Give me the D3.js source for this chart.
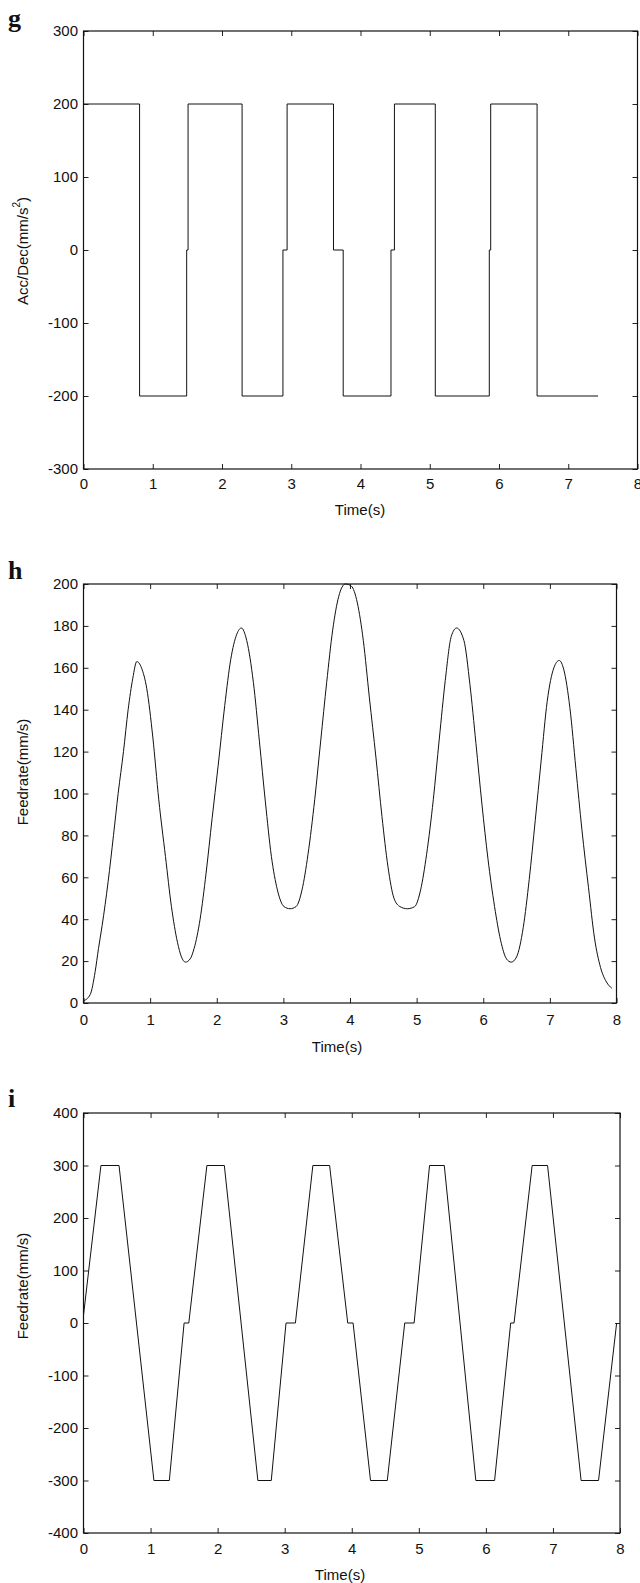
<!DOCTYPE html>
<html>
<head>
<meta charset="utf-8">
<script src="https://cdn.jsdelivr.net/npm/d3@7"></script>
<style>
  body { margin: 0; background: #fff; }
  text { font-family: "Liberation Sans", Arial, sans-serif; fill: #111; }
</style>
</head>
<body>
<div id="chart"></div>
<script>
// ticks
var timeTicks = [0, 1, 2, 3, 4, 5, 6, 7, 8];
var accTicks = [-300, -200, -100, 0, 100, 200, 300];
var feedTicksH = [0, 20, 40, 60, 80, 100, 120, 140, 160, 180, 200];
var feedTicksI = [-400, -300, -200, -100, 0, 100, 200, 300, 400];

// g: acc/dec, step values (value holds until next time)
var accTime  = [0, 0.81, 1.49, 1.51, 2.29, 2.88, 2.94, 3.61, 3.75, 4.44, 4.49, 5.08, 5.86, 5.88, 6.55, 7.43];
var accValue = [200, -200, 0, 200, -200, 0, 200, 0, -200, 0, 200, -200, 0, 200, -200, -200];

// h: feedrate
var feedTimeH = [0, 0.1, 0.175, 0.225, 0.28, 0.37, 0.45, 0.52, 0.6, 0.67, 0.74, 0.8, 0.87, 0.95, 1.04, 1.13, 1.23, 1.32, 1.41, 1.47, 1.53, 1.6, 1.66, 1.75, 1.84, 1.93, 2.02, 2.12, 2.21, 2.3, 2.37, 2.45, 2.55, 2.64, 2.73, 2.82, 2.91, 3.01, 3.1, 3.19, 3.28, 3.37, 3.47, 3.56, 3.65, 3.74, 3.83, 3.93, 4.02, 4.11, 4.2, 4.29, 4.39, 4.48, 4.57, 4.66, 4.75, 4.86, 4.97, 5.06, 5.15, 5.25, 5.34, 5.43, 5.52, 5.6, 5.71, 5.8, 5.89, 5.98, 6.07, 6.17, 6.26, 6.35, 6.42, 6.5, 6.6, 6.69, 6.78, 6.87, 6.96, 7.06, 7.14, 7.21, 7.3, 7.39, 7.48, 7.58, 7.67, 7.76, 7.85, 7.93];
var feedValueH = [1, 4, 15, 26, 37, 58, 80, 100, 120, 140, 155, 163, 160, 150, 127, 97, 70, 46, 29, 22, 19.5, 21, 26, 40, 62, 88, 113, 142, 164, 176, 179, 173, 153, 125, 96, 70, 54, 46, 45, 46, 54, 71, 97, 125, 153, 178, 194, 200, 199, 191, 173, 146, 117, 89, 65, 50, 46, 45, 46, 54, 71, 97, 126, 154, 175, 179, 173, 152, 124, 95, 69, 46, 30, 21, 19.5, 22, 36, 59, 87, 116, 144, 160, 163.5, 159, 141, 112, 83, 55, 31, 17, 10, 7];

// i: feedrate
var feedTimeI  = [0, 0.26, 0.53, 1.05, 1.28, 1.5, 1.57, 1.84, 2.1, 2.6, 2.8, 3.02, 3.16, 3.42, 3.67, 3.94, 4.02, 4.28, 4.53, 4.79, 4.93, 5.16, 5.38, 5.85, 6.13, 6.37, 6.42, 6.69, 6.92, 7.42, 7.68, 7.95];
var feedValueI = [15, 300, 300, -300, -300, 0, 0, 300, 300, -300, -300, 0, 0, 300, 300, 0, 0, -300, -300, 0, 0, 300, 300, -300, -300, 0, 0, 300, 300, -300, -300, 0];

var panels = [
  { letter: "g", letterY: 27, box: {left: 83.5, right: 637.5, top: 31, bottom: 469},
    yTicks: accTicks, yLabel: "Acc/Dec(mm/s", sup: "2", yLabelY: 251,
    xLabelX: 360, xLabelY: 515, pad: 9.5,
    t: accTime, v: accValue, curve: d3.curveStepAfter },
  { letter: "h", letterY: 579, box: {left: 83.5, right: 616.5, top: 584, bottom: 1003},
    yTicks: feedTicksH, yLabel: "Feedrate(mm/s)", yLabelY: 772,
    xLabelX: 337, xLabelY: 1052, pad: 11,
    t: feedTimeH, v: feedValueH, curve: d3.curveMonotoneX },
  { letter: "i", letterY: 1107, box: {left: 83.5, right: 620, top: 1113, bottom: 1533},
    yTicks: feedTicksI, yLabel: "Feedrate(mm/s)", yLabelY: 1286,
    xLabelX: 340, xLabelY: 1580, pad: 10,
    t: feedTimeI, v: feedValueI, curve: d3.curveLinear }
];

var svg = d3.select("#chart").append("svg")
    .attr("width", 640)
    .attr("height", 1583);

var tickLen = 5;
var plain = function (d) { return String(d); }; // keep ascii hyphen for negatives

panels.forEach(function (p) {
  var b = p.box;
  var x = d3.scaleLinear().domain([0, 8]).range([b.left, b.right]);
  var yExt = d3.extent(p.yTicks);
  var y = d3.scaleLinear().domain(yExt).range([b.bottom, b.top]);

  // panel letter
  svg.append("text")
      .attr("x", 8)
      .attr("y", p.letterY)
      .style("font-family", "'Liberation Serif', 'Times New Roman', serif")
      .style("font-weight", "bold")
      .style("font-size", "26px")
      .text(p.letter);

  // axes, ticks pointing inward
  var bottom = svg.append("g")
      .attr("transform", "translate(0," + b.bottom + ")")
      .call(d3.axisBottom(x).tickValues(timeTicks).tickFormat(plain).tickSizeInner(-tickLen).tickSizeOuter(0).tickPadding(p.pad));
  var left = svg.append("g")
      .attr("transform", "translate(" + b.left + ",0)")
      .call(d3.axisLeft(y).tickValues(p.yTicks).tickFormat(plain).tickSizeInner(-tickLen).tickSizeOuter(0).tickPadding(5.5));
  var top = svg.append("g")
      .attr("transform", "translate(0," + b.top + ")")
      .call(d3.axisTop(x).tickValues(timeTicks).tickSizeInner(-tickLen).tickSizeOuter(0).tickFormat(""));
  var right = svg.append("g")
      .attr("transform", "translate(" + b.right + ",0)")
      .call(d3.axisRight(y).tickValues(p.yTicks).tickSizeInner(-tickLen).tickSizeOuter(0).tickFormat(""));

  [bottom, left, top, right].forEach(function (g) {
    g.select(".domain").remove();
    g.selectAll("line").attr("stroke", "#222");
    g.selectAll("text").style("font-size", "15px").attr("fill", "#111");
  });

  svg.append("rect")
      .attr("x", b.left)
      .attr("y", b.top)
      .attr("width", b.right - b.left)
      .attr("height", b.bottom - b.top)
      .attr("fill", "none")
      .attr("stroke", "#111")
      .attr("stroke-width", 1.2);

  // series
  var pts = p.t.map(function (t, i) { return [t, p.v[i]]; });
  var line = d3.line()
      .x(function (d) { return x(d[0]); })
      .y(function (d) { return y(d[1]); })
      .curve(p.curve);
  svg.append("path")
      .datum(pts)
      .attr("fill", "none")
      .attr("stroke", "#111")
      .attr("stroke-width", 1)
      .attr("d", line);

  // axis labels
  var yl = svg.append("text")
      .attr("transform", "translate(22," + p.yLabelY + ") rotate(-90)")
      .attr("text-anchor", "middle")
      .attr("dominant-baseline", "central")
      .style("font-size", "15px")
      .text(p.yLabel);
  if (p.sup) {
    yl.append("tspan").attr("dy", -6).style("font-size", "10px").text(p.sup);
    yl.append("tspan").attr("dy", 6).text(")");
  }

  svg.append("text")
      .attr("x", p.xLabelX)
      .attr("y", p.xLabelY)
      .attr("text-anchor", "middle")
      .style("font-size", "15px")
      .text("Time(s)");
});
</script>
</body>
</html>
